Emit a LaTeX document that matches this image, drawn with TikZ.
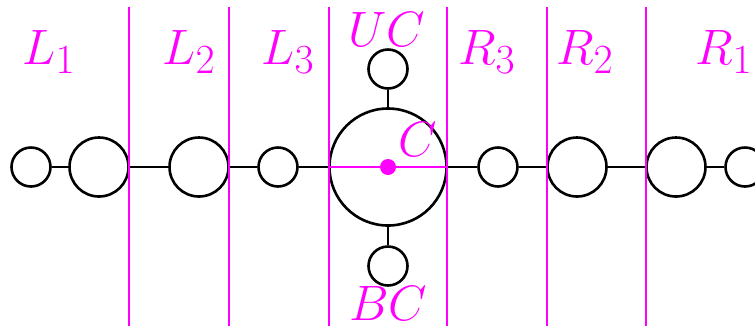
\documentclass[tikz,border=0pt]{standalone}
\usepackage{xcolor}
\usepackage{tikz}
\definecolor{cutmag}{RGB}{255,0,255}

\begin{document}
\begin{tikzpicture}[
  x=0.5pt, y=-0.5pt,
  small/.style={draw, circle, line width=1.3pt, minimum size=19.5pt, inner sep=0pt},
  big/.style={draw, circle, line width=1.3pt, minimum size=29.5pt, inner sep=0pt},
  hub/.style={draw, circle, line width=1.3pt, minimum size=58.5pt, inner sep=0pt},
  lbl/.style={text=cutmag, anchor=base, inner sep=0pt, font=\fontsize{31}{33}\selectfont},
  wire/.style={line width=1.3pt},
  cut/.style={cutmag, line width=1.1pt}
]
\useasboundingbox (0,0) rectangle (755,329);
% chain of circles
\node[small] (a1) at (31,167) {};
\node[big] (a2) at (99,167) {};
\node[big] (a3) at (199,167) {};
\node[small] (a4) at (278,167) {};
\node[hub] (c) at (388,167) {};
\node[small] (b4) at (498,167) {};
\node[big] (b3) at (577,167) {};
\node[big] (b2) at (676,167) {};
\node[small] (b1) at (745,167) {};
\node[small] (up) at (388,69) {};
\node[small] (dn) at (388,266) {};
\draw[wire] (a1) -- (a2);
\draw[wire] (a2) -- (a3);
\draw[wire] (a3) -- (a4);
\draw[wire] (a4) -- (c);
\draw[wire] (c) -- (b4);
\draw[wire] (b4) -- (b3);
\draw[wire] (b3) -- (b2);
\draw[wire] (b2) -- (b1);
\draw[wire] (c) -- (up);
\draw[wire] (c) -- (dn);
% separators
\draw[cut] (129,7) -- (129,326);
\draw[cut] (229,7) -- (229,326);
\draw[cut] (329,7) -- (329,326);
\draw[cut] (447,7) -- (447,326);
\draw[cut] (547,7) -- (547,326);
\draw[cut] (646,7) -- (646,326);
\draw[cut] (c.west) -- (c.east);
\fill[cutmag] (c.center) circle (4pt);
% labels
\node[lbl] (l1) at (49,64) {$L_1$};
\node[lbl] (l2) at (189,64) {$L_2$};
\node[lbl] (l3) at (288,64) {$L_3$};
\node[lbl] (uc) at (387,46) {$UC$};
\node[lbl] (cc) at (418,156) {$C$};
\node[lbl] (r3) at (487,64) {$R_3$};
\node[lbl] (r2) at (585,64) {$R_2$};
\node[lbl] (r1) at (724,64) {$R_1$};
\node[lbl] (bc) at (388,320) {$BC$};
\end{tikzpicture}
\end{document}
